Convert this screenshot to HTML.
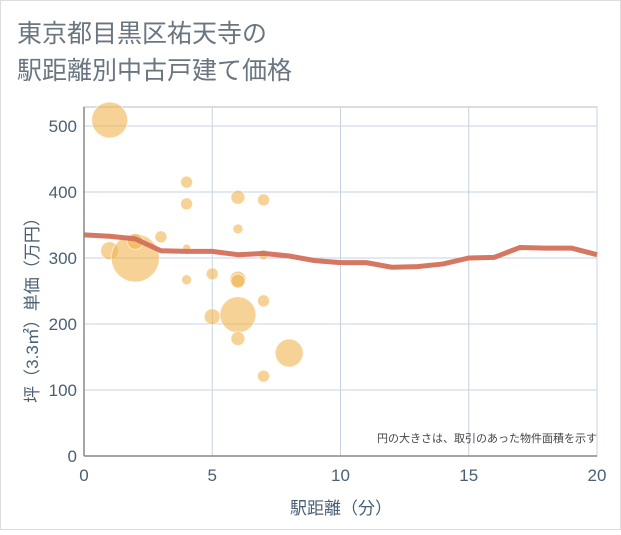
<!DOCTYPE html>
<html><head><meta charset="utf-8"><style>
body{margin:0;background:#fff;}
svg text{font-family:"Liberation Sans","Noto Sans CJK JP",sans-serif;}
</style></head><body>
<svg width="621" height="530">
<rect x="0.5" y="0.5" width="620" height="529" fill="#fff" stroke="#ddd"/>
<text x="17" y="42" font-size="25" fill="#6a7580">東京都目黒区祐天寺の</text>
<text x="17" y="79" font-size="25" fill="#6a7580">駅距離別中古戸建て価格</text>
<g id="grid"></g><g id="bubbles"></g><g id="line"></g><g id="axes"></g>
<text x="597" y="442" font-size="11" fill="#444" text-anchor="end">円の大きさは、取引のあった物件面積を示す</text>
<text x="341" y="514" font-size="17" fill="#4a5f75" text-anchor="middle">駅距離（分）</text>
<text transform="translate(38,306) rotate(-90)" font-size="17" fill="#4a5f75" text-anchor="middle">坪（3.3㎡）単価（万円）</text>
</svg>
<script>
const xTicks=[0,5,10,15,20];
const yTicks=[0,100,200,300,400,500];
const bubbleX=[1,1,2,2,3,4,4,4,4,5,5,6,6,6,6,6,6,7,7,7,7,8];
const bubbleY=[509,311,300,325,332,415,382,315,267,276,211,392,344,268,265,214,178,388,305,235,121,156];
const bubbleR=[18,9,24,8,6,6,6,4,5,6,8,7,5,8,7,18,7,6,5,6,6,14];
const lineX=[0,1,2,3,4,5,6,7,8,9,10,11,12,13,14,15,16,17,18,19,20];
const lineY=[335,333,329,311,310,310,305,307,303,296,293,293,286,287,291,300,301,316,315,315,305];
const X0=84,X1=597,Y0=456,Y1=126;
const sx=v=>X0+(X1-X0)*v/20, sy=v=>Y0-(Y0-Y1)*v/500;
const NS="http://www.w3.org/2000/svg";
function mk(t,a,p){const e=document.createElementNS(NS,t);for(const k in a)e.setAttribute(k,a[k]);document.getElementById(p).appendChild(e);return e;}
const bg=mk('rect',{x:X0,y:107,width:X1-X0,height:Y0-107,fill:'none',stroke:'#bbb'},'grid');


xTicks.forEach(t=>{const l=mk('line',{x1:sx(t),x2:sx(t),y1:107,y2:Y0,stroke:'#c5d3e0'},'grid');


const tx=mk('text',{x:sx(t),y:481,'font-size':17,fill:'#4a5f75','text-anchor':'middle'},'axes');tx.textContent=t;

});
yTicks.forEach(t=>{const l=mk('line',{x1:X0,x2:X1,y1:sy(t),y2:sy(t),stroke:'#c5d3e0'},'grid');


const tx=mk('text',{x:77,y:sy(t)+6,'font-size':17,fill:'#4a5f75','text-anchor':'end'},'axes');tx.textContent=t;

});
const ax=mk('line',{x1:X0,x2:X0,y1:107,y2:Y0,stroke:'#888','stroke-width':1.5},'axes');


const ax2=mk('line',{x1:X0,x2:X1,y1:Y0,y2:Y0,stroke:'#888','stroke-width':1.5},'axes');


bubbleX.forEach((v,i)=>{const c=mk('circle',{cx:sx(v),cy:sy(bubbleY[i]),r:bubbleR[i],fill:'rgba(240,180,80,0.6)',stroke:'rgba(255,255,255,0.6)'},'bubbles');

});
const p=mk('polyline',{points:lineX.map((v,i)=>sx(v)+','+sy(lineY[i])).join(' '),fill:'none',stroke:'#d4705a','stroke-width':5,'stroke-linejoin':'round','stroke-opacity':0.95},'line');


</script>
</body></html>
